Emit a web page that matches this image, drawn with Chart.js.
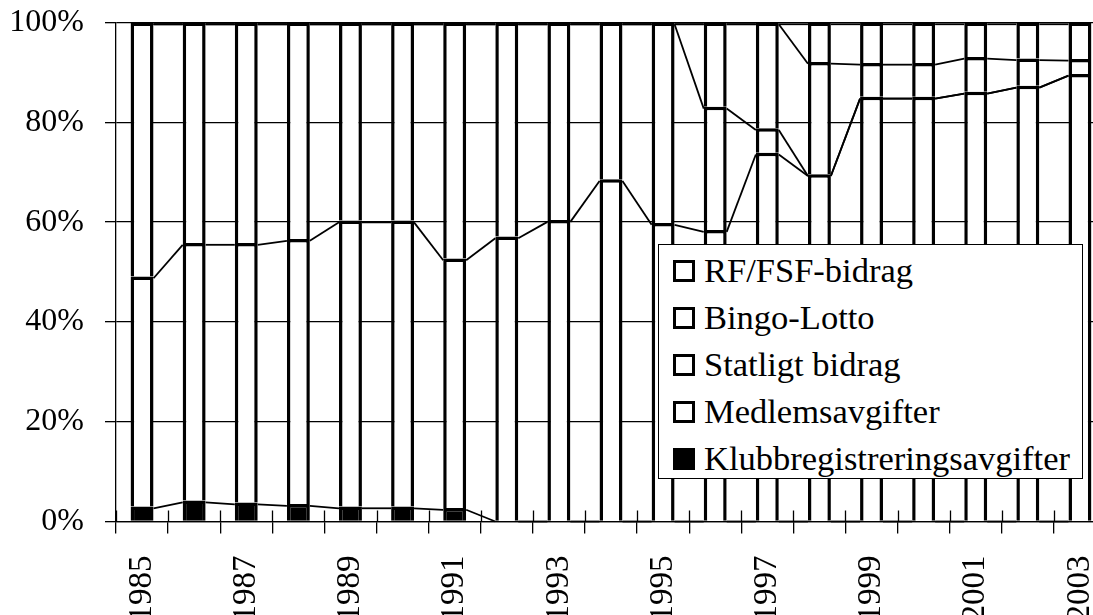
<!DOCTYPE html>
<html>
<head>
<meta charset="utf-8">
<script src="https://cdn.jsdelivr.net/npm/chart.js@4.4.1/dist/chart.umd.min.js"></script>
<style>
html,body{margin:0;padding:0;background:#fff;overflow:hidden;width:1093px;height:615px;}
#wrap{position:relative;width:1112px;height:615px;}
#c{position:absolute;left:0;top:0;}
#legend{position:absolute;left:658px;top:244px;width:425px;height:235px;border:1px solid #000;background:#fff;box-sizing:border-box;font-family:"Liberation Serif","Times New Roman",serif;font-size:34.5px;color:#000;padding-top:2px;}
.row{display:flex;align-items:center;height:47px;padding-left:14px;white-space:nowrap;}
.sw{width:22px;height:22px;box-sizing:border-box;border:3.5px solid #000;margin-right:9px;flex:none;}
</style>
</head>
<body>
<div id="wrap">
<canvas id="c" width="1112" height="615"></canvas>
<div id="legend"></div>
</div>
<script>
// ---- data (percent of total per year) ----
const years = ['1985','1986','1987','1988','1989','1990','1991','1992','1993','1994','1995','1996','1997','1998','1999','2000','2001','2002','2003'];
const klubbregistreringsavgifter = [3.0,4.2,3.8,3.5,3.0,3.0,2.7,0,0,0,0,0,0,0,0,0,0,0,0];
const medlemsavgifter = [46.1,51.6,52.0,53.1,57.3,57.3,50.0,57.1,60.4,68.6,59.8,58.4,73.9,69.6,85.1,85.1,86.1,87.3,89.7];
const statligtBidrag = [50.9,44.2,44.2,43.4,39.7,39.7,47.3,42.9,39.6,31.4,40.2,24.7,4.9,0,0,0,0,0,0];
const bingoLotto = [0,0,0,0,0,0,0,0,0,0,0,16.9,21.2,22.5,6.8,6.8,7.0,5.5,3.0];
const rfFsfBidrag = [0,0,0,0,0,0,0,0,0,0,0,0,0,7.9,8.1,8.1,6.9,7.2,7.3];
const seriesNames = ['Klubbregistreringsavgifter','Medlemsavgifter','Statligt bidrag','Bingo-Lotto','RF/FSF-bidrag'];
const seriesValues = [klubbregistreringsavgifter, medlemsavgifter, statligtBidrag, bingoLotto, rfFsfBidrag];
const seriesFill = ['#000000','#ffffff','#ffffff','#ffffff','#ffffff'];
const yTicks = [0,20,40,60,80,100];

const BW = 3.5;
const FONT = '"Liberation Serif","Times New Roman",serif';

const datasets = seriesNames.map((name, i) => ({
  label: name,
  data: seriesValues[i],
  backgroundColor: seriesFill[i],
  borderColor: '#000',
  borderWidth: BW,
  borderSkipped: 'start',
  categoryPercentage: 1,
  barPercentage: 0.44,
  stack: 's'
}));

const seriesLines = {
  id: 'seriesLines',
  afterDatasetsDraw(chart) {
    const ctx = chart.ctx;
    const bottom = chart.scales.y.bottom;
    ctx.save();
    ctx.strokeStyle = '#000';
    ctx.lineWidth = 1.8;
    chart.data.datasets.forEach((ds, d) => {
      const meta = chart.getDatasetMeta(d);
      for (let i = 0; i < meta.data.length - 1; i++) {
        const a = meta.data[i], b = meta.data[i + 1];
        ctx.beginPath();
        ctx.moveTo(a.x + a.width / 2, Math.min(a.y + BW / 2, bottom));
        ctx.lineTo(b.x - b.width / 2, Math.min(b.y + BW / 2, bottom));
        ctx.stroke();
      }
    });
    ctx.restore();
  }
};

const crossTicks = {
  id: 'crossTicks',
  beforeDatasetsDraw(chart) {
    const xs = chart.scales.x, ys = chart.scales.y;
    const ctx = chart.ctx;
    ctx.save();
    ctx.strokeStyle = '#000';
    ctx.lineWidth = 1.3;
    for (let i = 0; i <= chart.data.labels.length; i++) {
      const px = Math.round(xs.getPixelForValue(i - 0.5)) + 0.5;
      ctx.beginPath();
      ctx.moveTo(px, ys.bottom);
      ctx.lineTo(px, ys.bottom - 11);
      ctx.stroke();
    }
    ctx.restore();
  }
};

const chart = new Chart(document.getElementById('c'), {
  type: 'bar',
  data: { labels: years, datasets },
  plugins: [crossTicks, seriesLines],
  options: {
    responsive: false,
    animation: false,
    devicePixelRatio: 1,
    layout: { padding: { top: 22.5, right: 6, left: 0, bottom: 0 } },
    plugins: { legend: { display: false }, tooltip: { enabled: false } },
    scales: {
      x: {
        stacked: true,
        offset: true,
        afterFit: s => { s.height = 93.5; s.paddingLeft = 0; s.paddingRight = 0; },
        grid: { display: true, offset: true, drawOnChartArea: false, drawTicks: true, tickLength: 12, color: '#000', lineWidth: 1.3 },
        border: { display: true, color: '#000', width: 1.3 },
        ticks: {
          autoSkip: false, maxRotation: 90, minRotation: 90, padding: 22,
          color: '#000', font: { family: FONT, size: 33 },
          callback: function (v, i) { return i % 2 === 0 ? this.getLabelForValue(v) : ''; }
        }
      },
      y: {
        stacked: true,
        min: 0, max: 100,
        afterFit: s => { s.width = 116; s.paddingTop = 0; s.paddingBottom = 0; },
        afterBuildTicks: s => { s.ticks = yTicks.map(v => ({ value: v })); },
        grid: { color: '#000', lineWidth: 1.3, tickLength: 11, drawTicks: true },
        border: { display: true, color: '#000', width: 1.3 },
        ticks: { padding: 21, color: '#000', font: { family: FONT, size: 32 }, callback: v => v + '%' }
      }
    }
  }
});

// HTML legend (top of stack first)
const leg = document.getElementById('legend');
chart.data.datasets.slice().reverse().forEach(ds => {
  const row = document.createElement('div');
  row.className = 'row';
  const sw = document.createElement('span');
  sw.className = 'sw';
  sw.style.background = ds.backgroundColor;
  const t = document.createElement('span');
  t.textContent = ds.label;
  row.appendChild(sw);
  row.appendChild(t);
  leg.appendChild(row);
});
</script>
</body>
</html>
